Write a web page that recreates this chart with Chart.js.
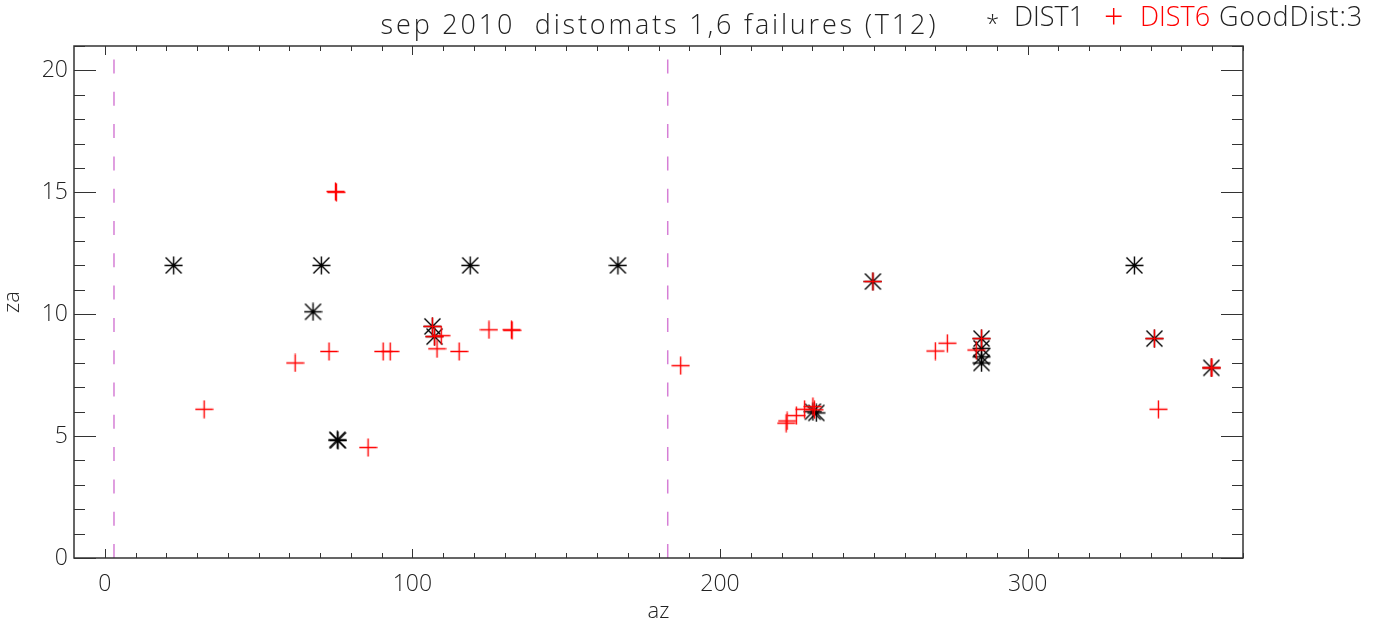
<!DOCTYPE html>
<html>
<head>
<meta charset="utf-8">
<title>distomats failures</title>
<script src="https://cdn.jsdelivr.net/npm/chart.js@4/dist/chart.umd.min.js"></script>
<style>
  html, body { margin: 0; padding: 0; background: #fff; }
  #wrap { width: 1385px; height: 626px; }
</style>
</head>
<body>
<div id="wrap"><canvas id="chart" width="1385" height="626"></canvas></div>
<script>
// az / za of the failures
const dist1Az = [22.4, 70.4, 118.8, 166.8, 67.7, 75.6, 75.8, 106.5, 107.2, 230.2, 231.3, 249.7,
  285.0, 285.0, 285.0, 285.0, 334.7, 341.2, 359.7];
const dist1Za = [12.0, 12.0, 12.0, 12.0, 10.1, 4.85, 4.82, 9.5, 9.08, 6.0, 5.95, 11.34,
  9.0, 8.6, 8.25, 8.0, 12.0, 9.0, 7.8];

const dist6Az = [32.3, 61.9, 72.9, 75.0, 75.3, 85.6, 90.5, 92.8, 106.5, 107.2, 109.4, 108.0,
  115.2, 124.9, 132.2, 132.4, 187.2, 221.5, 221.8, 224.8, 227.5, 230.2, 230.7, 249.7,
  270.0, 273.9, 283.3, 285.0, 341.2, 342.5, 359.7, 359.9];
const dist6Za = [6.1, 8.0, 8.47, 15.03, 15.0, 4.53, 8.47, 8.47, 9.5, 9.08, 9.12, 8.58,
  8.47, 9.36, 9.36, 9.34, 7.89, 5.53, 5.62, 5.84, 6.1, 6.21, 6.08, 11.34,
  8.49, 8.81, 8.53, 9.0, 9.0, 6.1, 7.8, 7.8];

// dashed az limits
const cutAz = [3, 183];

const xRange = [-10, 370];
const yRange = [0, 21];
const xTicks = [0, 100, 200, 300];
const yTicks = [0, 5, 10, 15, 20];

const titleText = "sep 2010  distomats 1,6 failures (T12)";
const FONT = "'Open Sans', 'Liberation Sans', sans-serif";

function toPoints(xs, ys) {
  return xs.map((v, i) => ({ x: v, y: ys[i] }));
}

// IDL-like marker glyphs
function makeMarker(kind, color) {
  const c = document.createElement("canvas");
  c.width = 19;
  c.height = 19;
  const g = c.getContext("2d");
  g.strokeStyle = color;
  g.lineWidth = 1.4;
  g.beginPath();
  g.moveTo(0.5, 9.5); g.lineTo(18.5, 9.5);
  g.moveTo(9.5, 0.5); g.lineTo(9.5, 18.5);
  if (kind === "star") {
    g.moveTo(1.5, 1.5); g.lineTo(17.5, 17.5);
    g.moveTo(17.5, 1.5); g.lineTo(1.5, 17.5);
  }
  g.stroke();
  return c;
}

// box with inward ticks on all four sides, plus title and legend
const framePlugin = {
  id: "frame",
  afterDraw(chart) {
    const { ctx, chartArea: a, scales: { x, y } } = chart;
    ctx.save();
    ctx.strokeStyle = "#333";
    ctx.lineWidth = 1.5;
    ctx.strokeRect(a.left, a.top, a.right - a.left, a.bottom - a.top);

    ctx.lineWidth = 1;
    ctx.beginPath();
    for (let v = 0; v <= x.max; v += 10) {
      const px = Math.round(x.getPixelForValue(v)) + 0.5;
      const len = v % 100 === 0 ? 9 : 5;
      ctx.moveTo(px, a.bottom); ctx.lineTo(px, a.bottom - len);
      ctx.moveTo(px, a.top); ctx.lineTo(px, a.top + len);
    }
    for (let v = y.min; v <= y.max; v += 1) {
      const py = Math.round(y.getPixelForValue(v)) + 0.5;
      const len = v % 5 === 0 ? 22 : 11;
      ctx.moveTo(a.left, py); ctx.lineTo(a.left + len, py);
      ctx.moveTo(a.right, py); ctx.lineTo(a.right - len, py);
    }
    ctx.stroke();

    ctx.textBaseline = "alphabetic";
    ctx.fillStyle = "#222";
    ctx.font = "300 27px " + FONT;
    ctx.letterSpacing = "2.8px";
    ctx.textAlign = "center";
    ctx.fillText(titleText, (a.left + a.right) / 2 + 1, 34);

    ctx.textAlign = "left";
    ctx.letterSpacing = "0px";
    ctx.font = "300 24px " + FONT;
    ctx.fillText("*", 986, 32);
    ctx.font = "300 27px " + FONT;
    ctx.fillText("DIST1", 1014, 26);
    ctx.fillStyle = "#ff0000";
    ctx.font = "300 34px " + FONT;
    ctx.fillText("+", 1104, 29);
    ctx.font = "300 27px " + FONT;
    ctx.fillText("DIST6", 1140, 26);
    ctx.fillStyle = "#222";
    ctx.letterSpacing = "0.8px";
    ctx.fillText("GoodDist:3", 1219, 26);
    ctx.restore();
  },
};

const tickFont = { family: FONT, size: 23, weight: 300 };

new Chart(document.getElementById("chart"), {
  type: "scatter",
  data: {
    datasets: [
      {
        label: "DIST6",
        data: toPoints(dist6Az, dist6Za),
        pointStyle: makeMarker("cross", "#ff0000"),
        pointRadius: 9,
        order: 0,
      },
      {
        label: "DIST1",
        data: toPoints(dist1Az, dist1Za),
        pointStyle: makeMarker("star", "#000"),
        pointRadius: 9,
        order: 1,
      },
      ...cutAz.map((v) => ({
        type: "line",
        label: "cut " + v,
        data: [{ x: v, y: yRange[0] }, { x: v, y: yRange[1] }],
        borderColor: "#d67fd6",
        borderWidth: 1.5,
        borderDash: [14, 18.3],
        pointRadius: 0,
        order: 2,
      })),
    ],
  },
  options: {
    responsive: false,
    animation: false,
    devicePixelRatio: 1,
    layout: { padding: { top: 46, right: 142, left: 0, bottom: 0 } },
    plugins: {
      legend: { display: false },
      tooltip: { enabled: false },
    },
    scales: {
      x: {
        type: "linear",
        min: xRange[0],
        max: xRange[1],
        afterFit: (s) => { s.height = 68; },
        afterBuildTicks: (s) => { s.ticks = xTicks.map((v) => ({ value: v })); },
        grid: { display: false, drawTicks: false },
        border: { display: false },
        ticks: { font: tickFont, color: "#222", padding: 13, maxRotation: 0 },
        title: { display: true, text: "az", font: { family: FONT, size: 22, weight: 300 }, color: "#222", padding: { top: 0, bottom: 1 } },
      },
      y: {
        type: "linear",
        min: yRange[0],
        max: yRange[1],
        afterFit: (s) => { s.width = 74; },
        afterBuildTicks: (s) => { s.ticks = yTicks.map((v) => ({ value: v })); },
        grid: { display: false, drawTicks: false },
        border: { display: false },
        ticks: { font: tickFont, color: "#222", padding: 6 },
        title: { display: true, text: "za", font: { family: FONT, size: 22, weight: 300 }, color: "#222", padding: { top: 0, bottom: 0 } },
      },
    },
  },
  plugins: [framePlugin],
});
</script>
</body>
</html>
